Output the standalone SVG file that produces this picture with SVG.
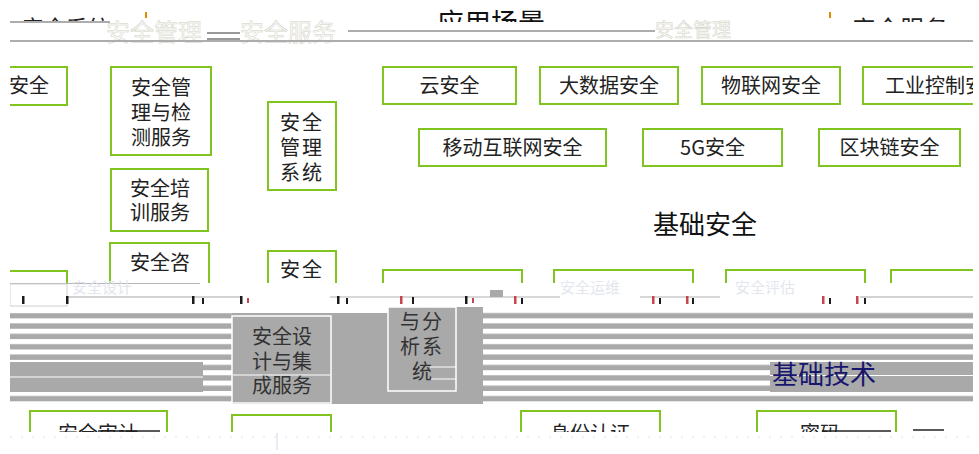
<svg xmlns="http://www.w3.org/2000/svg" width="979" height="454" viewBox="0 0 979 454">
<defs>
<style>
.box{fill:#fff;stroke:#7fc41f;stroke-width:2}
.t{font-family:"Noto Sans CJK SC","Liberation Sans",sans-serif;font-size:20px;fill:#222;text-anchor:middle}
.big{font-family:"Noto Sans CJK SC","Liberation Sans",sans-serif;font-size:26px;fill:#111;text-anchor:middle}
.gbox{fill:#a9a9a9;stroke:#fff;stroke-width:1.5}
.gt{font-family:"Noto Sans CJK SC","Liberation Sans",sans-serif;font-size:20px;fill:#333;text-anchor:middle}
.ln{stroke:#adadad;stroke-width:2;fill:none}
.dk{stroke:#222;stroke-width:1.5;fill:none}
.tick{fill:#1a1a1a}
.tick2{fill:#c8454f}
.ghost{font-family:"Noto Sans CJK SC","Liberation Sans",sans-serif;fill:#fbfbfb;stroke:#d2d2c4;stroke-width:0.5}
.faint{font-family:"Noto Sans CJK SC","Liberation Sans",sans-serif;font-size:15px;fill:#e3e6ee}
</style>
<clipPath id="page"><rect x="10" y="0" width="963" height="454"/></clipPath>
<clipPath id="top22"><rect x="0" y="0" width="979" height="22"/></clipPath>
<clipPath id="bot432"><rect x="0" y="0" width="979" height="432"/></clipPath>
<pattern id="stripes" patternUnits="userSpaceOnUse" x="0" y="308" width="20" height="10.37">
<rect width="20" height="10.37" fill="#a9a9a9"/>
<rect width="20" height="5" fill="#fff"/>
</pattern>
</defs>
<rect width="979" height="454" fill="#fff"/>
<g clip-path="url(#page)">

<g id="header">
<g clip-path="url(#top22)">
<text x="22" y="36" style="font-family:'Noto Sans CJK SC',sans-serif;font-size:22px;fill:#222">安全系统</text>
<text x="491" y="33" style="font-family:'Noto Sans CJK SC',sans-serif;font-size:27px;fill:#111;text-anchor:middle">应用场景</text>
<text x="852" y="38" style="font-family:'Noto Sans CJK SC',sans-serif;font-size:24px;fill:#222">安全服务</text>
</g>
<rect x="145" y="12" width="2" height="6" fill="#e08a00"/>
<rect x="829" y="12" width="2" height="6" fill="#e08a00"/>
<text class="ghost" x="106" y="41" font-size="24">安全管理</text>
<text class="ghost" x="240" y="41" font-size="24">安全服务</text>
<text class="ghost" x="655" y="37" font-size="19">安全管理</text>
</g>

<g id="connectors">
<line class="ln" x1="10" y1="22" x2="110" y2="22"/>
<line class="ln" x1="10" y1="41" x2="973" y2="41"/>
<line class="ln" x1="348" y1="31" x2="655" y2="31"/>
<line x1="207" y1="33" x2="240" y2="33" stroke="#777" stroke-width="1.5"/>
<line x1="207" y1="39" x2="240" y2="39" stroke="#777" stroke-width="1.5"/>
</g>

<g id="node-left-anquan">
<rect class="box" x="-40" y="67" width="107" height="38"/>
<text class="t" x="29" y="93">安全</text>
</g>
<g id="node-guanli-jiance">
<rect class="box" x="111" y="67" width="100" height="88"/>
<text class="t"><tspan x="161" y="95">安全管</tspan><tspan x="161" y="120">理与检</tspan><tspan x="161" y="145">测服务</tspan></text>
</g>
<g id="node-guanli-xitong">
<rect class="box" x="268" y="102" width="68" height="88"/>
<text class="t" letter-spacing="2"><tspan x="302" y="130">安全</tspan><tspan x="302" y="155">管理</tspan><tspan x="302" y="180">系统</tspan></text>
</g>
<g id="node-peixun">
<rect class="box" x="111" y="169" width="97" height="62"/>
<text class="t"><tspan x="160" y="196">安全培</tspan><tspan x="160" y="220">训服务</tspan></text>
</g>

<g id="node-yun"><rect class="box" x="383" y="67" width="133" height="37"/><text class="t" x="449.5" y="93">云安全</text></g>
<g id="node-dashuju"><rect class="box" x="540" y="67" width="138" height="37"/><text class="t" x="609" y="93">大数据安全</text></g>
<g id="node-wulianwang"><rect class="box" x="702" y="67" width="138" height="37"/><text class="t" x="771" y="93">物联网安全</text></g>
<g id="node-gongkong"><rect class="box" x="863" y="67" width="150" height="37"/><text class="t" x="885" y="93" style="text-anchor:start">工业控制安全</text></g>
<g id="node-yidong"><rect class="box" x="419" y="129" width="187" height="37"/><text class="t" x="512.5" y="155">移动互联网安全</text></g>
<g id="node-5g"><rect class="box" x="643" y="129" width="139" height="37"/><text class="t" x="712.5" y="155">5G安全</text></g>
<g id="node-qukuailian"><rect class="box" x="819" y="129" width="141" height="37"/><text class="t" x="889.5" y="155">区块链安全</text></g>

<g id="label-jichuanquan"><text class="big" x="705" y="234">基础安全</text></g>

<g id="row2">
<rect class="box" x="-40" y="271" width="107" height="34"/>
<g id="node-zixun"><rect class="box" x="110" y="243" width="99" height="62"/><text class="t" x="160" y="270">安全咨</text></g>
<g id="node-anquan2"><rect class="box" x="268" y="251" width="68" height="54"/><text class="t" x="302" y="277" letter-spacing="2">安全</text></g>
<rect class="box" x="383" y="270" width="139" height="35"/>
<rect class="box" x="554" y="270" width="139" height="35"/>
<rect class="box" x="726" y="270" width="139" height="35"/>
<rect class="box" x="891" y="270" width="139" height="35"/>
</g>

<g id="glitch-band">
<rect x="0" y="283" width="979" height="25" fill="#fff"/>
<line x1="10" y1="283.5" x2="200" y2="283.5" stroke="#b5b5b5" stroke-width="1"/>
<rect x="10" y="284" width="57" height="22" fill="none" stroke="#d0d0d0" stroke-width="1"/>
<line x1="67" y1="297" x2="240" y2="297" stroke="#a5a5a5" stroke-width="1"/>
<line x1="330" y1="297" x2="560" y2="297" stroke="#b0b0b0" stroke-width="1"/>
<line x1="640" y1="297" x2="720" y2="297" stroke="#b0b0b0" stroke-width="1"/>
<line x1="860" y1="297" x2="973" y2="297" stroke="#a5a5a5" stroke-width="1"/>
<rect x="490" y="290" width="13" height="7" fill="#a9a9a9"/>
<text class="faint" x="72" y="293">安全设计</text>
<text class="faint" x="560" y="293">安全运维</text>
<text class="faint" x="735" y="293">安全评估</text>
<g>
<rect class="tick" x="22" y="296" width="2.5" height="8"/><rect class="tick" x="66" y="296" width="2.5" height="8"/>
<rect class="tick" x="192" y="296" width="2.5" height="8"/><rect class="tick" x="202" y="298" width="2" height="6"/>
<rect class="tick" x="240" y="296" width="2.5" height="8"/><rect class="tick2" x="247" y="298" width="2" height="5"/>
<rect class="tick" x="337" y="296" width="2.5" height="8"/><rect class="tick" x="346" y="298" width="2" height="6"/>
<rect class="tick2" x="400" y="296" width="2.5" height="8"/><rect class="tick" x="412" y="297" width="2" height="7"/>
<rect class="tick" x="465" y="296" width="2.5" height="8"/><rect class="tick2" x="472" y="298" width="2" height="5"/>
<rect class="tick2" x="514" y="296" width="2.5" height="8"/><rect class="tick" x="521" y="298" width="2" height="6"/>
<rect class="tick2" x="652" y="296" width="2.5" height="8"/><rect class="tick" x="659" y="298" width="2" height="6"/>
<rect class="tick2" x="686" y="296" width="2.5" height="8"/><rect class="tick" x="692" y="298" width="2" height="6"/>
<rect class="tick2" x="822" y="296" width="2.5" height="8"/><rect class="tick" x="829" y="298" width="2" height="6"/>
<rect class="tick2" x="856" y="296" width="2.5" height="8"/><rect class="tick" x="864" y="298" width="2" height="6"/>
</g>
</g>

<g id="base-band">
<rect x="10" y="313" width="222" height="91" fill="url(#stripes)"/>
<rect x="232" y="313" width="251" height="91" fill="#a9a9a9"/>
<rect x="388" y="307" width="95" height="6" fill="#a9a9a9"/>
<rect x="483" y="308" width="490" height="96" fill="url(#stripes)"/>
<rect x="10" y="362" width="193" height="30" fill="#a9a9a9"/>
<line x1="10" y1="361.5" x2="203" y2="361.5" stroke="#fff" stroke-width="1"/>
<line x1="10" y1="377" x2="203" y2="377" stroke="#fff" stroke-width="1"/>
<rect x="770" y="362" width="203" height="30" fill="#a9a9a9"/>
<line x1="770" y1="375.5" x2="973" y2="375.5" stroke="#fff" stroke-width="1"/>
</g>

<g id="node-sheji">
<rect class="gbox" x="232" y="316" width="99" height="87"/>
<line x1="233" y1="375" x2="330" y2="375" stroke="#fff" stroke-width="1"/>
<text class="gt"><tspan x="282" y="344">安全设</tspan><tspan x="282" y="369">计与集</tspan><tspan x="282" y="393">成服务</tspan></text>
</g>
<g id="node-fenxi">
<rect class="gbox" x="388" y="307" width="68" height="84"/>
<line x1="430" y1="367" x2="456" y2="367" stroke="#fff" stroke-width="1"/>
<line x1="430" y1="379" x2="456" y2="379" stroke="#fff" stroke-width="1"/>
<text class="gt"><tspan x="422" y="329" letter-spacing="2">与分</tspan><tspan x="422" y="354" letter-spacing="2">析系</tspan><tspan x="422" y="379">统</tspan></text>
</g>
<g id="label-jichujishu"><text class="big" x="824" y="384" style="fill:#16166e">基础技术</text></g>

<g id="row-bottom" clip-path="url(#bot432)">
<g id="node-shenji"><rect class="box" x="30" y="411" width="137" height="60"/><text class="t" x="98" y="441" font-size="21">安全审计</text></g>
<g id="node-bottom2"><rect class="box" x="232" y="415" width="99" height="60"/></g>
<g id="node-renzheng"><rect class="box" x="521" y="411" width="139" height="60"/><text class="t" x="590" y="441" font-size="21">身份认证</text></g>
<g id="node-mima"><rect class="box" x="757" y="411" width="139" height="60"/><text class="t" x="800" y="441" style="text-anchor:start">密码</text></g>
</g>
<g id="bottom-marks">
<rect x="0" y="432" width="979" height="22" fill="#fff"/>
<line class="dk" x1="98" y1="431" x2="160" y2="431"/>
<line class="dk" x1="822" y1="431" x2="891" y2="431"/>
<line class="dk" x1="913" y1="430" x2="944" y2="430"/>
<line x1="277" y1="433" x2="277" y2="450" stroke="#d6d6e6" stroke-width="1"/>
<line x1="10" y1="437" x2="973" y2="437" stroke="#eef0f4" stroke-width="2" stroke-dasharray="2 9"/>
</g>
</g>
</svg>
